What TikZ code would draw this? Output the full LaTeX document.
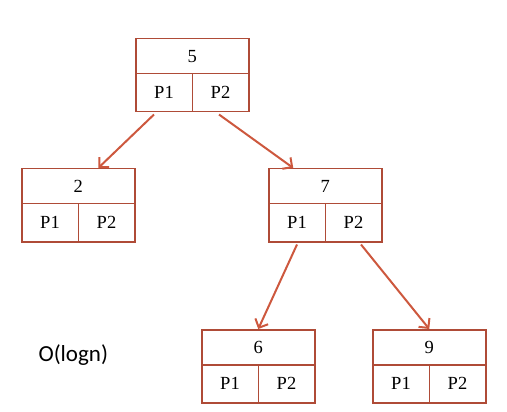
\documentclass[tikz,border=0pt]{standalone}
\usepackage{fontspec}
\setmainfont{Liberation Serif}
\newfontfamily\calib{Carlito}
\usetikzlibrary{arrows.meta,calc}
\definecolor{boxc}{RGB}{175,75,55}
\definecolor{arrc}{RGB}{205,88,62}
\tikzset{
  cell/.style={draw=boxc,line width=1.5pt,inner sep=0pt,font=\fontsize{18.5}{18.5}\selectfont},
  topcell/.style={cell,minimum width=113pt,minimum height=35pt,anchor=north west},
  botcell/.style={cell,minimum width=56.5pt,minimum height=38pt,anchor=north west},
  link/.style={draw=arrc,line width=2pt,-{Straight Barb[length=7pt,width=14pt,line width=2pt]}}
}
\newcommand\treebox[4]{%
  \node[topcell] (#1t) at (#2,#3) {#4};
  \node[botcell] (#1a) at (#2,#3+35) {P1};
  \node[botcell] (#1b) at (#2+56.5,#3+35) {P2};
}
\begin{document}
\begin{tikzpicture}[x=1pt,y=-1pt]
\useasboundingbox (0,0) rectangle (507,412);
\treebox{nf}{135}{38}{5}
\treebox{nb}{21}{168}{2}
\treebox{ng}{268}{168}{7}
\treebox{nh}{201}{329}{6}
\treebox{ni}{372}{329}{9}
\node[font=\calib\fontsize{23}{23}\selectfont,anchor=west] (cx) at (35,355) {O(logn)};
\draw[link] ($(nfa.south)+(-10,2)$) -- ($(nbt.north)+(20,0)$);
\draw[link] ($(nfb.south)+(-1.5,2)$) -- ($(ngt.north)+(-32,0)$);
\draw[link] ($(nga.south)+(0,2)$) -- (nht.north);
\draw[link] ($(ngb.south)+(7.5,2)$) -- (nit.north);
\end{tikzpicture}
\end{document}
